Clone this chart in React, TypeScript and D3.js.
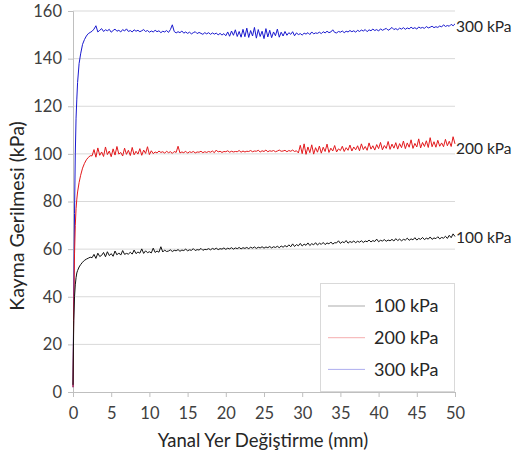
import React, { useEffect, useRef } from "react";
import * as d3 from "d3";

// yanal yer değiştirme (mm)
const displacement = [
  0, 0.1, 0.2, 0.3, 0.4, 0.5, 0.6, 0.8, 1, 1.25, 1.5, 1.75, 2, 2.25,
  2.5, 2.75, 3, 3.25, 3.5, 3.75, 4, 4.25, 4.5, 4.75, 5, 5.25, 5.5, 5.75, 6, 6.25, 6.5, 6.75, 7, 7.25,
  7.5, 7.75, 8, 8.25, 8.5, 8.75, 9, 9.25, 9.5, 9.75, 10, 10.25, 10.5, 10.75, 11, 11.25, 11.5, 11.75, 12, 12.25,
  12.5, 12.75, 13, 13.25, 13.5, 13.75, 14, 14.25, 14.5, 14.75, 15, 15.25, 15.5, 15.75, 16, 16.25, 16.5, 16.75, 17, 17.25,
  17.5, 17.75, 18, 18.25, 18.5, 18.75, 19, 19.25, 19.5, 19.75, 20, 20.25, 20.5, 20.75, 21, 21.25, 21.5, 21.75, 22, 22.25,
  22.5, 22.75, 23, 23.25, 23.5, 23.75, 24, 24.25, 24.5, 24.75, 25, 25.25, 25.5, 25.75, 26, 26.25, 26.5, 26.75, 27, 27.25,
  27.5, 27.75, 28, 28.25, 28.5, 28.75, 29, 29.25, 29.5, 29.75, 30, 30.25, 30.5, 30.75, 31, 31.25, 31.5, 31.75, 32, 32.25,
  32.5, 32.75, 33, 33.25, 33.5, 33.75, 34, 34.25, 34.5, 34.75, 35, 35.25, 35.5, 35.75, 36, 36.25, 36.5, 36.75, 37, 37.25,
  37.5, 37.75, 38, 38.25, 38.5, 38.75, 39, 39.25, 39.5, 39.75, 40, 40.25, 40.5, 40.75, 41, 41.25, 41.5, 41.75, 42, 42.25,
  42.5, 42.75, 43, 43.25, 43.5, 43.75, 44, 44.25, 44.5, 44.75, 45, 45.25, 45.5, 45.75, 46, 46.25, 46.5, 46.75, 47, 47.25,
  47.5, 47.75, 48, 48.25, 48.5, 48.75, 49, 49.25, 49.5, 49.75, 50,
];

const stress100 = [
  3, 30, 40, 45, 48, 50, 51, 52.5, 53.5, 54.5, 55.3, 55.8, 56.2, 56.6,
  56.4, 57.8, 56.1, 58.3, 56.9, 57.4, 58.6, 56.8, 58.9, 57.3, 58.1, 57, 59.2, 57.6, 58.4, 57.5, 59.4, 57.8, 58.2, 57.9,
  58.7, 57.9, 59.6, 58.1, 58.8, 58.3, 60.1, 58.2, 59.3, 58.5, 58.9, 58.4, 60.4, 58.6, 59.2, 58.7, 61, 58.8, 59.6, 59,
  59.2, 59.7, 59, 59.5, 59.3, 59.8, 59.1, 59.6, 59.4, 60, 59.3, 59.7, 59.5, 60.2, 59.4, 59.8, 59.6, 60.3, 59.5, 59.9,
  59.8, 60.2, 59.7, 60.3, 59.9, 60.4, 59.8, 60.2, 60, 60.5, 59.9, 60.4, 60.1, 60.6, 60, 60.5, 60.2, 60.7, 60.1, 60.6,
  60.3, 60.7, 60.2, 60.8, 60.4, 60.9, 60.3, 60.8, 60.5, 61, 60.4, 60.9, 60.6, 61.1, 60.5, 61, 60.7, 61.2, 60.6, 61.3,
  60.8, 61.5, 60.9, 61.8, 61, 62.2, 61.1, 61.9, 61.4, 62.4, 61.3, 62.1, 61.6, 62.6, 61.5, 62.3, 61.8, 62.7, 61.7, 62.5,
  62, 62.8, 61.9, 62.6, 62.2, 63, 62.1, 62.7, 62.6, 63.5, 62.4, 63.1, 62.7, 63.6, 62.5, 63.2, 62.8, 63.4, 62.7, 63.3,
  62.9, 63.5, 62.8, 63.4, 63.1, 63.8, 63, 63.6, 63.2, 64.2, 63.1, 63.7, 63.4, 64, 63.3, 63.8, 63.5, 64.1, 63.4, 64.4,
  63.6, 64.2, 63.5, 64.1, 63.8, 64.6, 63.7, 64.3, 63.9, 64.8, 63.8, 64.5, 64.1, 64.9, 64, 64.6, 64.2, 65.1, 64.1, 64.7,
  64.4, 65.2, 64.3, 64.9, 64.6, 65.4, 64.5, 65.8, 64.8, 66.4, 65.3,
];

const stress200 = [
  2, 35, 58, 70, 77, 81, 84, 88, 91, 94, 96, 97.5, 98.5, 99.2,
  99.2, 101.8, 98.6, 102.5, 99.4, 100.8, 98.9, 102.9, 99.7, 101.2, 98.8, 102.1, 99.5, 103.1, 99.9, 100.6, 99.1, 102.4, 99.8, 101.5,
  99.3, 102.7, 99.6, 101.1, 99.9, 102.2, 99.4, 101.6, 100.2, 103, 99.7, 101.3, 100.1, 100.8, 100.4, 101.2, 100.6, 100.9, 100.3, 101.1,
  100.5, 100.9, 100.2, 101, 100.6, 103.2, 100.4, 100.8, 100.5, 101.1, 100.3, 100.9, 100.6, 101, 100.4, 100.8, 100.7, 101.1, 100.5, 100.9,
  100.6, 101, 100.7, 101.2, 100.5, 101.6, 100.8, 101.1, 100.6, 101, 100.9, 101.3, 100.7, 101.1, 100.8, 101, 100.9, 101.4, 100.7, 101.2,
  100.8, 101.1, 101, 101.4, 100.9, 101.2, 101.1, 101.5, 100.8, 101.3, 101, 101.6, 100.9, 101.3, 101.1, 101.4, 100.9, 101.2, 101.6, 101.1,
  101.2, 101.5, 100.9, 101.4, 101.1, 101.6, 101, 101.3, 100.4, 103.6, 100.1, 104.2, 99.8, 102.9, 100.5, 103.8, 99.9, 102.6, 100.7, 103.3,
  100.3, 102.8, 101, 104.1, 100.6, 102.4, 101.2, 103.5, 100.8, 102.1, 101.4, 103.2, 101, 102.6, 101.5, 103.7, 101.2, 102.9, 101.7, 103.4,
  101.3, 104.2, 101.8, 103.1, 101.5, 104.6, 102, 103.4, 101.6, 103.9, 102.2, 104.8, 101.7, 103.5, 102.3, 105.2, 101.9, 104.1, 102.4, 104.7,
  102, 104.3, 102.6, 105.4, 102.2, 104.6, 102.8, 105.9, 102.3, 104.4, 102.9, 106.3, 102.5, 104.8, 103.1, 105.5, 102.7, 106.8, 103, 105.1,
  102.8, 105.7, 103.2, 104.6, 103, 106.1, 103.4, 105.3, 103.1, 107.2, 104.2,
];

const stress300 = [
  2, 40, 75, 100, 115, 123, 130, 138, 142, 146, 148, 149.5, 150.5, 151,
  151.5, 152.4, 153.8, 151.2, 151.9, 152.6, 151.4, 152.1, 151.7, 152.3, 151.1, 151.8, 152.4, 151.5, 151.9, 151.2, 152.2, 151.6, 152.5, 151.4,
  151.8, 151.2, 152.1, 151.5, 151.9, 151.3, 151.7, 152.2, 151.4, 151.8, 151.1, 151.6, 151.2, 151.9, 151.3, 151.7, 150.9, 151.5, 151.2, 151.8,
  151, 152.2, 154.2, 151.4, 150.8, 151.3, 150.9, 151.6, 150.7, 151.2, 150.6, 151.1, 150.4, 150.9, 151.3, 150.5, 151, 150.6, 150.2, 150.9,
  150.4, 150.9, 150.2, 150.8, 150.3, 150.7, 150, 150.6, 149.9, 150.5, 149.6, 151.2, 149.4, 151.6, 149.8, 152.1, 149.3, 151.4, 149, 152.3,
  149.2, 152.8, 148.9, 151.8, 149.5, 153.1, 148.6, 152.2, 149.3, 151.5, 148.4, 152.6, 149.1, 151.9, 148.8, 151.2, 149.6, 152.4, 149, 151.1,
  149.5, 151.4, 149.8, 150.9, 150.2, 151.3, 149.6, 150.8, 150.1, 150.5, 149.9, 150.7, 150.3, 150.9, 150.1, 151.2, 150.4, 150.8, 150.6, 151.1,
  150.5, 151.3, 150.8, 151.5, 150.9, 151.2, 152.1, 151, 150.8, 151.4, 151.1, 151.6, 150.9, 151.5, 151.2, 151.8, 151.3, 151.7, 151.1, 151.9,
  151.4, 152, 151.6, 152.2, 151.3, 152.1, 151.7, 152.4, 151.8, 152.2, 151.6, 152.5, 151.9, 152.3, 152.7, 151.9, 152.4, 153.1, 152.2, 152.6,
  152.1, 152.8, 152.4, 153, 152.3, 152.9, 152.5, 153.2, 152.6, 153, 152.4, 153.3, 152.8, 153.1, 152.7, 153.5, 152.9, 153.2, 153.6, 153,
  153.4, 153.1, 153.7, 153.3, 154.2, 153.5, 153.9, 153.6, 154.4, 153.8, 154.6,
];

const seriesNames = ["100 kPa", "200 kPa", "300 kPa"];
const seriesColors = ["#111111", "#e3191c", "#1a1acf"];
const xTicks = [0, 5, 10, 15, 20, 25, 30, 35, 40, 45, 50];
const yTicks = [0, 20, 40, 60, 80, 100, 120, 140, 160];

const W = 519;
const H = 459;
const FONT = "Lato, 'Open Sans', sans-serif";

export default function App() {
  const ref = useRef<SVGSVGElement>(null);

  useEffect(() => {
    const svg = d3.select(ref.current);
    svg.selectAll("*").remove();

    const left = 73, right = 455, top = 11, bottom = 392;
    const x = d3.scaleLinear().domain([0, 50]).range([left, right]);
    const y = d3.scaleLinear().domain([0, 160]).range([bottom, top]);

    svg.append("rect").attr("width", W).attr("height", H).attr("fill", "#fff");

    // grid
    svg.append("g")
      .selectAll("line")
      .data(yTicks.filter((d) => d > 0))
      .join("line")
      .attr("x1", left).attr("x2", right)
      .attr("y1", (d) => y(d)).attr("y2", (d) => y(d))
      .attr("stroke", "#d9d9d9").attr("stroke-width", 1);

    // y axis
    const ya = svg.append("g").attr("transform", `translate(${left},0)`)
      .call(d3.axisLeft(y).tickValues(yTicks).tickSize(5).tickPadding(6));
    ya.select(".domain").attr("stroke", "#bfbfbf");
    ya.selectAll(".tick line").attr("stroke", "#bfbfbf");
    ya.selectAll("text").attr("fill", "#404040").style("font-size", "16.5px").style("font-family", FONT);

    // x axis
    const xa = svg.append("g").attr("transform", `translate(0,${bottom})`)
      .call(d3.axisBottom(x).tickValues(xTicks).tickSize(5).tickPadding(10));
    xa.select(".domain").attr("stroke", "#bfbfbf");
    xa.selectAll(".tick line").attr("stroke", "#bfbfbf");
    xa.selectAll("text").attr("fill", "#404040").style("font-size", "16.5px").style("font-family", FONT);

    const allSeries = [stress100, stress200, stress300];
    const line = d3.line<[number, number]>()
      .x((d) => x(d[0]))
      .y((d) => y(d[1]));

    // 300 first so the lower curves sit on top near the origin
    [2, 1, 0].forEach((i) => {
      const pts = displacement.map((dx, j) => [dx, allSeries[i][j]] as [number, number])
        .filter((p) => p[1] !== undefined);
      svg.append("path")
        .datum(pts)
        .attr("fill", "none")
        .attr("stroke", seriesColors[i])
        .attr("stroke-width", 1)
        .attr("stroke-linejoin", "round")
        .attr("d", line);
    });

    // end labels
    const labelY = [238, 149, 27];
    seriesNames.forEach((name, i) => {
      svg.append("text")
        .attr("x", right + 1)
        .attr("y", labelY[i])
        .attr("dy", "0.35em")
        .attr("fill", "#262626")
        .style("font-size", "15.5px")
        .style("font-family", FONT)
        .text(name);
    });

    // legend
    const lg = svg.append("g");
    lg.append("rect")
      .attr("x", 320.5).attr("y", 283.5).attr("width", 134).attr("height", 108)
      .attr("fill", "#fff").attr("stroke", "#d9d9d9");
    seriesNames.forEach((name, i) => {
      const cy = 306 + i * 31.7;
      lg.append("line")
        .attr("x1", 328).attr("x2", 365).attr("y1", cy).attr("y2", cy)
        .attr("stroke", seriesColors[i]).attr("stroke-opacity", 0.45).attr("stroke-width", 0.8);
      lg.append("text")
        .attr("x", 374).attr("y", cy).attr("dy", "0.35em")
        .attr("fill", "#262626")
        .style("font-size", "18px")
        .style("font-family", FONT)
        .text(name);
    });

    // axis titles
    svg.append("text")
      .attr("x", 263).attr("y", 441).attr("dy", "0.35em")
      .attr("text-anchor", "middle")
      .attr("fill", "#262626")
      .style("font-size", "18.5px").style("font-family", FONT)
      .text("Yanal Yer Değiştirme (mm)");
    svg.append("text")
      .attr("transform", `translate(17,216) rotate(-90)`)
      .attr("dy", "0.35em")
      .attr("text-anchor", "middle")
      .attr("fill", "#262626")
      .style("font-size", "19.5px").style("font-family", FONT)
      .text("Kayma Gerilmesi (kPa)");
  }, []);

  return (
    <svg ref={ref} width={W} height={H} style={{ position: "absolute", left: 0, top: 0 }} />
  );
}
